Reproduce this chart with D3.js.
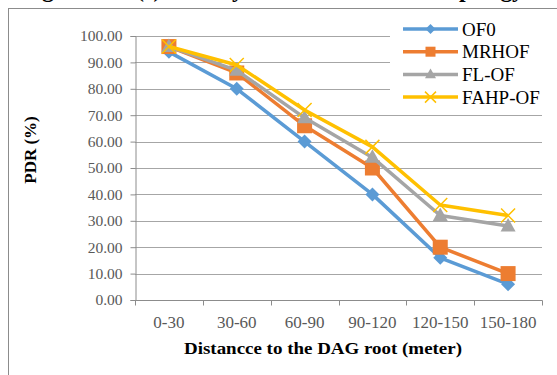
<!DOCTYPE html>
<html>
<head>
<meta charset="utf-8">
<script src="https://cdn.jsdelivr.net/npm/d3@7/dist/d3.min.js"></script>
<style>
  html, body { margin: 0; padding: 0; background: #fff; }
  svg { display: block; }
  svg text { font-family: "Liberation Serif", "Times New Roman", Tinos, "DejaVu Serif", serif; }
</style>
</head>
<body>
<svg id="chart" width="557" height="375"></svg>
<script>
// Distance bins from the DAG root
const categories = ["0-30", "30-60", "60-90", "90-120", "120-150", "150-180"];

// Packet delivery ratio (%) per objective function
const of0   = [94, 80, 60, 40, 16, 6];
const mrhof = [96, 86, 66, 50, 20, 10];
const flof  = [96, 87, 69, 54, 32, 28];
const fahp  = [96, 89, 72, 58, 36, 32];

const seriesNames = ["OF0", "MRHOF", "FL-OF", "FAHP-OF"];
const yTicks = [0, 10, 20, 30, 40, 50, 60, 70, 80, 90, 100];

const series = [
  { name: seriesNames[0], values: of0,   color: "#5B9BD5", marker: "diamond" },
  { name: seriesNames[1], values: mrhof, color: "#ED7D31", marker: "square" },
  { name: seriesNames[2], values: flof,  color: "#A5A5A5", marker: "triangle" },
  { name: seriesNames[3], values: fahp,  color: "#FFC000", marker: "cross" }
];

const svg = d3.select("#chart");

// Caption line above the frame (only its descenders fall inside the page)
svg.append("text")
  .attr("x", 22).attr("y", -3)
  .attr("textLength", 502).attr("lengthAdjust", "spacing")
  .attr("font-weight", "bold").attr("font-size", 24)
  .attr("fill", "#000")
  .text("Figure 4.10 (c) PDR by distance in random topology");

// Frame
svg.append("rect").attr("x", 8.5).attr("y", 8.5).attr("width", 560).attr("height", 380)
  .attr("fill", "#fff").attr("stroke", "#8c8c8c").attr("stroke-width", 1);

const plot = { left: 135, right: 542, top: 36, bottom: 300 };

const x = d3.scaleBand().domain(categories).range([plot.left, plot.right]).padding(0);
const xc = d => x(d) + x.bandwidth() / 2;
const y = d3.scaleLinear().domain([0, 100]).range([plot.bottom, plot.top]);

// Horizontal gridlines
svg.append("g").selectAll("line").data(yTicks.filter(t => t > 0)).join("line")
  .attr("x1", plot.left).attr("x2", plot.right)
  .attr("y1", d => Math.round(y(d)) + 0.5).attr("y2", d => Math.round(y(d)) + 0.5)
  .attr("stroke", "#a6a6a6").attr("stroke-width", 1);

// Y axis
const yAxis = svg.append("g").attr("transform", `translate(${plot.left + 0.5},0)`)
  .call(d3.axisLeft(y).tickValues(yTicks).tickSize(5).tickPadding(8).tickFormat(d3.format(".2f")));
yAxis.attr("font-family", null).attr("font-size", null);
yAxis.select(".domain").attr("stroke", "#8c8c8c");
yAxis.selectAll(".tick line").attr("stroke", "#8c8c8c");
yAxis.selectAll(".tick text").attr("font-size", 15.5).attr("fill", "#595959");

// X axis: ticks at the category boundaries
const xAxisG = svg.append("g").attr("transform", `translate(0,${plot.bottom + 0.5})`);
xAxisG.append("line").attr("x1", plot.left).attr("x2", plot.right + 0.5)
  .attr("stroke", "#8c8c8c");
const bounds = categories.map(c => x(c)).concat([x(categories[categories.length - 1]) + x.bandwidth()]);
xAxisG.selectAll("line.tk").data(bounds).join("line").attr("class", "tk")
  .attr("x1", d => Math.round(d) + 0.5).attr("x2", d => Math.round(d) + 0.5)
  .attr("y1", 0).attr("y2", 5).attr("stroke", "#8c8c8c");
xAxisG.selectAll("text").data(categories).join("text")
  .attr("x", d => xc(d)).attr("y", 27)
  .attr("text-anchor", "middle")
  .attr("font-size", 17).attr("fill", "#595959")
  .text(d => d);

// Axis titles
svg.append("text")
  .attr("x", 323).attr("y", 354).attr("text-anchor", "middle")
  .attr("textLength", 278).attr("lengthAdjust", "spacingAndGlyphs")
  .attr("font-weight", "bold").attr("font-size", 17).attr("fill", "#000")
  .text("Distancce to the DAG root (meter)");
svg.append("text")
  .attr("transform", "translate(36,150) rotate(-90)").attr("text-anchor", "middle")
  .attr("font-weight", "bold").attr("font-size", 17).attr("fill", "#000")
  .text("PDR (%)");

// Marker drawing
function drawMarker(g, type, color, cx, cy, s) {
  if (type === "diamond") {
    g.append("path").attr("d", `M${cx},${cy - s}L${cx + s},${cy}L${cx},${cy + s}L${cx - s},${cy}Z`)
      .attr("fill", color);
  } else if (type === "square") {
    g.append("rect").attr("x", cx - s).attr("y", cy - s).attr("width", 2 * s).attr("height", 2 * s)
      .attr("fill", color);
  } else if (type === "triangle") {
    const h = s * 1.8;
    g.append("path").attr("d", `M${cx},${cy - h * 0.6}L${cx + s},${cy + h * 0.4}L${cx - s},${cy + h * 0.4}Z`)
      .attr("fill", color);
  } else if (type === "cross") {
    g.append("path").attr("d", `M${cx - s},${cy - s}L${cx + s},${cy + s}M${cx - s},${cy + s}L${cx + s},${cy - s}`)
      .attr("stroke", color).attr("stroke-width", 1.5).attr("fill", "none");
  }
}
const markerSize = { diamond: 7, square: 7.5, triangle: 7.5, cross: 7 };

const line = d3.line().x((d, i) => xc(categories[i])).y(d => y(d));

series.forEach(s => {
  const g = svg.append("g");
  g.append("path").datum(s.values).attr("d", line)
    .attr("fill", "none").attr("stroke", s.color).attr("stroke-width", 3.5)
    .attr("stroke-linejoin", "round");
  s.values.forEach((v, i) => drawMarker(g, s.marker, s.color, xc(categories[i]), y(v), markerSize[s.marker]));
});

// Legend
const legend = svg.append("g");
legend.append("rect").attr("x", 390).attr("y", 14).attr("width", 160).attr("height", 92).attr("fill", "#fff");
series.forEach((s, i) => {
  const ly = 29 + i * 22.7;
  legend.append("line").attr("x1", 403).attr("x2", 458).attr("y1", ly).attr("y2", ly)
    .attr("stroke", s.color).attr("stroke-width", 3.5);
  drawMarker(legend, s.marker, s.color, 430.5, ly, { diamond: 5, square: 5, triangle: 5.5, cross: 5.5 }[s.marker]);
  legend.append("text").attr("x", 462).attr("y", ly + 6.5)
    .attr("font-size", 19).attr("fill", "#000")
    .text(s.name);
});
</script>
</body>
</html>
